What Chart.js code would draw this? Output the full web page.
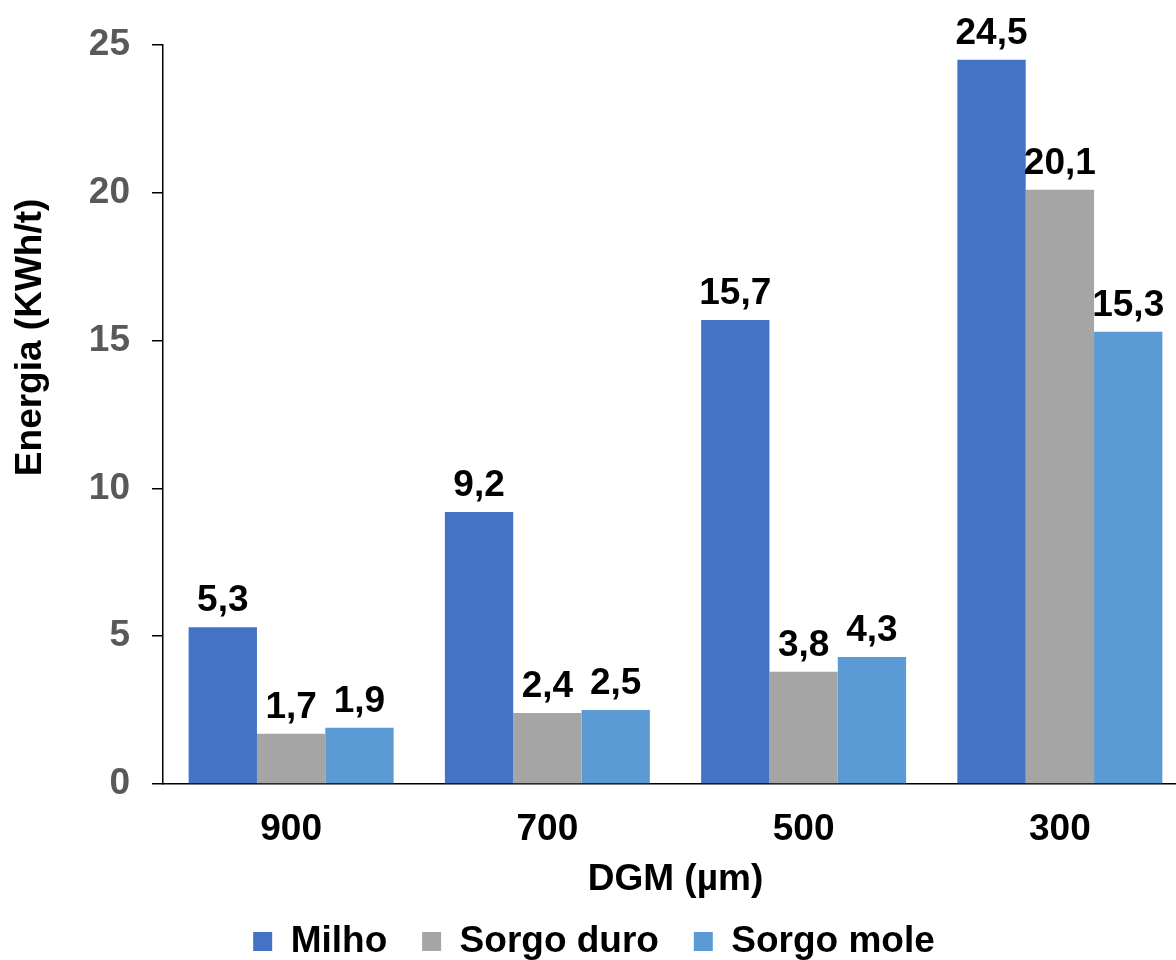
<!DOCTYPE html>
<html>
<head>
<meta charset="utf-8">
<script src="https://cdn.jsdelivr.net/npm/chart.js@4/dist/chart.umd.min.js"></script>
<style>
html, body { margin: 0; padding: 0; overflow: hidden; background: #fff; }
canvas { display: block; }
</style>
</head>
<body>
<canvas id="c" width="1188" height="960"></canvas>
<script>
const categories = ["900", "700", "500", "300"];
const milho = [5.3, 9.2, 15.7, 24.5];
const sorgoDuro = [1.7, 2.4, 3.8, 20.1];
const sorgoMole = [1.9, 2.5, 4.3, 15.3];
const seriesNames = ["Milho", "Sorgo duro", "Sorgo mole"];
const yTitle = "Energia (KWh/t)";
const xTitle = "DGM (µm)";

const FONT = "'Liberation Sans', Arial, sans-serif";
const FS = 37;
const NB = "\u00A0\u00A0\u00A0";
const LEAD = "\u00A0".repeat(15);

const dataLabels = {
  id: 'dataLabels',
  afterDatasetsDraw(chart) {
    const ctx = chart.ctx;
    ctx.save();
    ctx.font = "bold " + FS + "px " + FONT;
    ctx.fillStyle = "#000";
    ctx.textAlign = "center";
    ctx.textBaseline = "alphabetic";
    chart.data.datasets.forEach((ds, i) => {
      chart.getDatasetMeta(i).data.forEach((bar, j) => {
        const txt = ds.data[j].toFixed(1).replace('.', ',');
        ctx.fillText(txt, bar.x, bar.y - 16);
      });
    });
    ctx.restore();
  }
};

new Chart(document.getElementById('c'), {
  type: 'bar',
  data: {
    labels: categories,
    datasets: [
      { label: seriesNames[0], data: milho, backgroundColor: '#4472C4' },
      { label: seriesNames[1], data: sorgoDuro, backgroundColor: '#A5A5A5' },
      { label: seriesNames[2], data: sorgoMole, backgroundColor: '#5B9BD5' }
    ]
  },
  options: {
    responsive: false,
    animation: false,
    layout: { padding: { top: 45, left: 0, right: 0, bottom: -10 } },
    datasets: { bar: { categoryPercentage: 0.8, barPercentage: 1.0, borderWidth: 0 } },
    plugins: {
      tooltip: { enabled: false },
      legend: {
        position: 'bottom',
        labels: {
          font: { family: FONT, size: FS, weight: 'bold', lineHeight: 0.67 },
          color: '#000',
          boxWidth: 19,
          boxHeight: 19,
          padding: 4,
          generateLabels(chart) {
            const items = Chart.defaults.plugins.legend.labels.generateLabels(chart);
            items.forEach((it, i) => { if (i < items.length - 1) it.text = it.text + NB; });
            return items;
          }
        }
      }
    },
    scales: {
      x: {
        afterFit(scale) { scale.height = 135; },
        grid: { display: false, drawTicks: false },
        border: { display: true, color: '#000', width: 1.5 },
        ticks: { font: { family: FONT, size: FS, weight: 'bold' }, color: '#000', padding: 24 },
        title: { display: true, text: xTitle, font: { family: FONT, size: FS, weight: 'bold' }, color: '#000', padding: { top: 6, bottom: 17 } }
      },
      y: {
        min: 0, max: 25,
        afterFit(scale) { scale.width = 163; },
        grid: { display: true, drawOnChartArea: false, drawTicks: true, tickLength: 11, color: '#000', lineWidth: 1.5 },
        border: { display: true, color: '#000', width: 1.5 },
        ticks: { stepSize: 5, font: { family: FONT, size: FS, weight: 'bold' }, color: '#595959', padding: 22 },
        title: { display: true, text: LEAD + yTitle, font: { family: FONT, size: FS, weight: 'bold' }, color: '#000', padding: { top: 9, bottom: 0 } }
      }
    }
  },
  plugins: [dataLabels]
});
</script>
</body>
</html>
